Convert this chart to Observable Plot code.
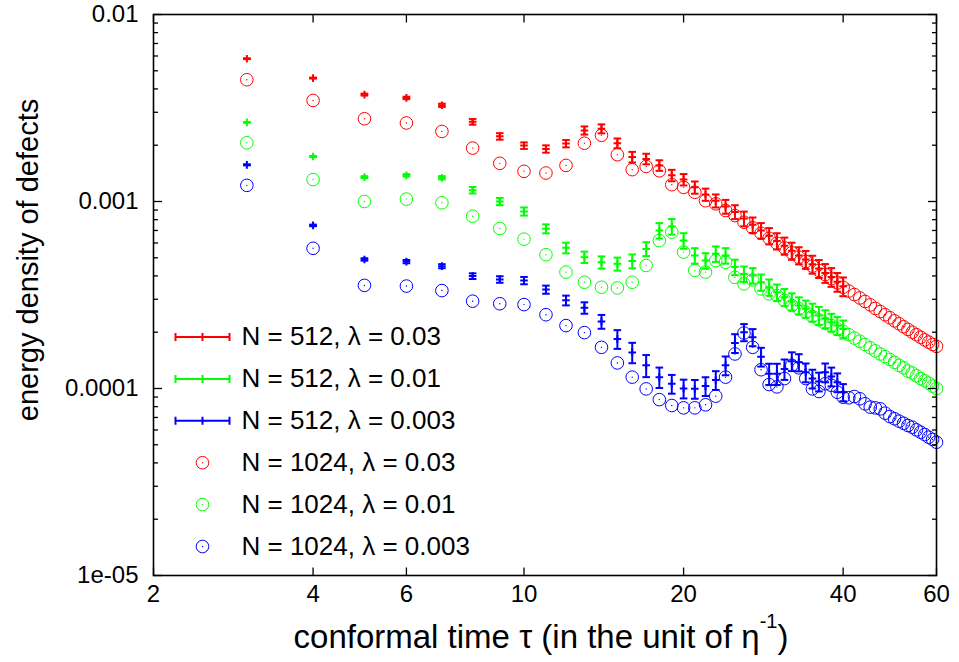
<!DOCTYPE html>
<html><head><meta charset="utf-8">
<script src="https://cdn.jsdelivr.net/npm/d3@7"></script>
<script src="https://cdn.jsdelivr.net/npm/@observablehq/plot@0.6"></script>
<style>
body{margin:0;background:#fff}
svg{font-family:"Liberation Sans",Arial,sans-serif}
</style>
</head><body><div id="chart"></div>
<script>
// ---------- data ----------
const tau512 = [3,4,5,6,7,8,9,10,11,12,13,14,15,16,17,18,19,20,21,22,23,24,25,26,27,28,29,30,31,32,33,34,35,36,37,38,39,40];
const tau1024 = [3,4,5,6,7,8,9,10,11,12,13,14,15,16,17,18,19,20,21,22,23,24,25,26,27,28,29,30,31,32,33,34,35,36,37,38,39,40,
  41,42,43,44,45,46,47,48,49,50,51,52,53,54,55,56,57,58,59,60];

const red512 = [0.00580,0.00457,0.00373,0.00358,0.00327,0.00267,0.00223,0.00199,0.00191,0.00204,0.00240,0.00245,0.00205,0.00173,0.00169,0.00156,0.00138,0.00131,0.00119,0.00109,0.00101,0.000940,0.000880,0.000810,0.000750,0.000700,0.000655,0.000615,0.000580,0.000545,0.000515,0.000490,0.000462,0.000438,0.000415,0.000395,0.000372,0.000352];
const red512err = [0.005,0.006,0.012,0.015,0.02,0.035,0.04,0.04,0.045,0.045,0.05,0.055,0.06,0.065,0.065,0.065,0.07,0.07,0.075,0.075,0.08,0.085,0.085,0.09,0.095,0.095,0.1,0.1,0.105,0.105,0.105,0.11,0.11,0.11,0.115,0.115,0.115,0.115];

const green512 = [0.00265,0.00174,0.00135,0.00138,0.00134,0.00115,0.00100,0.000885,0.000715,0.000565,0.000504,0.000473,0.000464,0.000480,0.000558,0.000700,0.000735,0.000618,0.000514,0.000483,0.000525,0.000514,0.000446,0.000410,0.000402,0.000370,0.000348,0.000327,0.000308,0.000292,0.000278,0.000267,0.000256,0.000246,0.000236,0.000226,0.000217,0.000208];
const green512err = [0.005,0.007,0.012,0.015,0.02,0.04,0.045,0.05,0.055,0.065,0.07,0.075,0.08,0.085,0.085,0.095,0.095,0.095,0.095,0.095,0.095,0.095,0.095,0.095,0.095,0.1,0.1,0.1,0.105,0.105,0.105,0.105,0.11,0.11,0.11,0.11,0.11,0.11];

const blue512 = [0.00157,0.000745,0.000490,0.000477,0.000451,0.000399,0.000383,0.000378,0.000338,0.000296,0.000270,0.000228,0.000184,0.000156,0.000133,0.000115,0.000106,0.000100,0.0000996,0.000103,0.000111,0.000133,0.000175,0.000200,0.000188,0.000148,0.000120,0.000120,0.000127,0.000140,0.000138,0.000122,0.000113,0.000109,0.000122,0.000116,0.000108,0.0000955];
const blue512err = [0.006,0.01,0.015,0.02,0.025,0.035,0.04,0.045,0.05,0.06,0.07,0.085,0.115,0.125,0.135,0.125,0.115,0.115,0.115,0.115,0.115,0.115,0.115,0.105,0.105,0.115,0.13,0.13,0.125,0.115,0.105,0.115,0.115,0.115,0.115,0.115,0.115,0.105];

const red1024 = [0.00448,0.00347,0.00277,0.00263,0.00237,0.00193,0.00160,0.00145,0.00142,0.00156,0.00205,0.00226,0.00178,0.00148,0.00154,0.00146,0.00123,0.00119,0.00112,0.00101,0.000972,0.000895,0.000841,0.000775,0.000723,0.000676,0.000636,0.000598,0.000565,0.000532,0.000504,0.000478,0.000451,0.000428,0.000407,0.000386,0.000367,0.000348,
  0.000332,0.000318,0.000305,0.000292,0.000280,0.000268,0.000258,0.000248,0.000239,0.000230,0.000222,0.000214,0.000207,0.000200,0.000194,0.000188,0.000182,0.000177,0.000172,0.000168];
const green1024 = [0.00206,0.00131,0.00100,0.00103,0.000984,0.000834,0.000717,0.000629,0.000519,0.000419,0.000370,0.000348,0.000345,0.000370,0.000455,0.000618,0.000686,0.000536,0.000428,0.000419,0.000483,0.000473,0.000393,0.000363,0.000381,0.000341,0.000321,0.000314,0.000296,0.000278,0.000267,0.000256,0.000243,0.000233,0.000223,0.000217,0.000208,0.000202,
  0.000194,0.000186,0.000179,0.000172,0.000165,0.000159,0.000153,0.000148,0.000143,0.000138,0.000133,0.000129,0.000124,0.000121,0.000117,0.000113,0.000110,0.000107,0.000103,0.000100];
const blue1024 = [0.00122,0.000562,0.000356,0.000353,0.000334,0.000293,0.000284,0.000281,0.000248,0.000217,0.000199,0.000166,0.000137,0.000115,0.0000995,0.0000872,0.0000811,0.0000788,0.0000788,0.0000818,0.0000910,0.000115,0.000153,0.000198,0.000166,0.000126,0.000105,0.000102,0.000113,0.000133,0.000129,0.000113,0.0000995,0.0000964,0.000106,0.000104,0.0000955,0.0000898,
  0.0000892,0.0000906,0.0000881,0.0000828,0.0000795,0.0000788,0.0000778,0.0000738,0.0000708,0.0000689,0.0000669,0.0000652,0.0000634,0.0000621,0.0000601,0.0000584,0.0000567,0.0000549,0.0000534,0.0000516];

const seriesColors = ["#ff0000", "#00ff00", "#0000ff"];
const legendLabels = ["N = 512, λ = 0.03", "N = 512, λ = 0.01", "N = 512, λ = 0.003",
                      "N = 1024, λ = 0.03", "N = 1024, λ = 0.01", "N = 1024, λ = 0.003"];
const xTicks = [2, 4, 6, 10, 20, 40, 60];
const yTicks = [1e-5, 1e-4, 1e-3, 1e-2];
const yTickLabels = ["1e-05", "0.0001", "0.001", "0.01"];
const xLabel = "conformal time τ (in the unit of η-1)";
const yLabel = "energy density of defects";

// ---------- build tables ----------
const bars = [[red512, red512err], [green512, green512err], [blue512, blue512err]].map(([ys, es], k) =>
  tau512.map((t, i) => ({x: t, y: ys[i], lo: ys[i] * (1 - es[i]), hi: ys[i] * (1 + es[i]), c: seriesColors[k]})));
const circ = [red1024, green1024, blue1024].map((ys, k) =>
  tau1024.map((t, i) => ({x: t, y: ys[i], c: seriesColors[k]})));
const yMinor = [];
for (const d of [1e-5, 1e-4, 1e-3]) for (let m = 2; m <= 9; m++) yMinor.push(m * d);

// ---------- symbols ----------
const hline = (w) => ({draw(ctx) { ctx.moveTo(-w, 0); ctx.lineTo(w, 0); }});
const plus = (w) => ({draw(ctx) { ctx.moveTo(-w, 0); ctx.lineTo(w, 0); ctx.moveTo(0, -w); ctx.lineTo(0, w); }});
const seg = (dx, dy) => ({draw(ctx) { ctx.moveTo(0, 0); ctx.lineTo(dx, dy); }});
const legendBar = {draw(ctx) {
  ctx.moveTo(-27, 0); ctx.lineTo(27, 0);
  ctx.moveTo(-27, -4); ctx.lineTo(-27, 4);
  ctx.moveTo(27, -4); ctx.lineTo(27, 4);
  ctx.moveTo(0, -4); ctx.lineTo(0, 4);
}};

const ML = 153, MR = 23, MT = 14, MB = 87;
const CAP = 3.8, R = 6.3;

const marks = [];
// error bars (N=512)
for (const b of bars) {
  marks.push(Plot.ruleX(b, {x: "x", y1: "lo", y2: "hi", stroke: "c", strokeWidth: 2}));
  marks.push(Plot.dot(b, {x: "x", y: "lo", symbol: hline(CAP), stroke: "c", fill: "none", strokeWidth: 2}));
  marks.push(Plot.dot(b, {x: "x", y: "hi", symbol: hline(CAP), stroke: "c", fill: "none", strokeWidth: 2}));
  marks.push(Plot.dot(b, {x: "x", y: "y", symbol: plus(CAP), stroke: "c", fill: "none", strokeWidth: 2}));
}
// circles (N=1024)
for (const c of circ) {
  marks.push(Plot.dot(c, {x: "x", y: "y", r: R, stroke: "c", fill: "none", strokeWidth: 1}));
  marks.push(Plot.dot(c, {x: "x", y: "y", r: 0.7, fill: "c", stroke: "none"}));
}
// ticks (inward, mirrored)
marks.push(Plot.dot(xTicks, {x: d => d, y: 1e-5, symbol: seg(0, -8), stroke: "black", strokeWidth: 1.3}));
marks.push(Plot.dot(xTicks, {x: d => d, y: 1e-2, symbol: seg(0, 8), stroke: "black", strokeWidth: 1.3}));
marks.push(Plot.dot(yTicks, {x: 2, y: d => d, symbol: seg(8.5, 0), stroke: "black", strokeWidth: 1.3}));
marks.push(Plot.dot(yTicks, {x: 60, y: d => d, symbol: seg(-8.5, 0), stroke: "black", strokeWidth: 1.3}));
marks.push(Plot.dot(yMinor, {x: 2, y: d => d, symbol: seg(4.5, 0), stroke: "black", strokeWidth: 1.3}));
marks.push(Plot.dot(yMinor, {x: 60, y: d => d, symbol: seg(-4.5, 0), stroke: "black", strokeWidth: 1.3}));
marks.push(Plot.frame({stroke: "black", strokeWidth: 1.6}));
// tick labels
marks.push(Plot.axisX(xTicks, {tickSize: 0, tickPadding: 9, fontSize: 24, tickFormat: d => String(d), label: null}));
marks.push(Plot.axisY(yTicks, {tickSize: 0, tickPadding: 15, fontSize: 24, tickFormat: d => yTickLabels[yTicks.indexOf(d)], label: null}));
// axis titles
marks.push(Plot.text([yLabel], {frameAnchor: "left", dx: -125, dy: -35, rotate: -90, textAnchor: "middle", lineAnchor: "middle", fontSize: 29, text: d => d}));
marks.push(Plot.text([xLabel], {frameAnchor: "bottom", dx: -4, dy: 62, textAnchor: "middle", lineAnchor: "middle", fontSize: 33, text: d => d}));
// legend
const rowY = [336.5, 378.4, 420.3, 462.2, 504.1, 546.0];
legendLabels.forEach((lab, i) => {
  const dy = rowY[i] - MT;
  const col = seriesColors[i % 3];
  if (i < 3) {
    marks.push(Plot.dot([0], {frameAnchor: "top-left", dx: 49, dy, symbol: legendBar, stroke: col, fill: "none", strokeWidth: 2}));
  } else {
    marks.push(Plot.dot([0], {frameAnchor: "top-left", dx: 49, dy, r: R, stroke: col, fill: "none", strokeWidth: 1}));
    marks.push(Plot.dot([0], {frameAnchor: "top-left", dx: 49, dy, r: 0.7, fill: col, stroke: "none"}));
  }
  marks.push(Plot.text([lab], {frameAnchor: "top-left", dx: 88, dy, text: d => d, textAnchor: "start", lineAnchor: "middle", fontSize: 26}));
});

const chart = Plot.plot({
  width: 959, height: 662,
  marginLeft: ML, marginRight: MR, marginTop: MT, marginBottom: MB,
  x: {type: "log", domain: [2, 60]},
  y: {type: "log", domain: [1e-5, 1e-2]},
  style: {fontFamily: '"Liberation Sans", Arial, sans-serif', color: "black", background: "white", overflow: "visible"},
  marks
});
document.getElementById("chart").appendChild(chart);

// superscript in x label
for (const t of chart.querySelectorAll("text")) {
  if (t.textContent === xLabel) {
    t.textContent = "";
    const ns = "http://www.w3.org/2000/svg";
    const a = document.createElementNS(ns, "tspan"); a.textContent = "conformal time τ (in the unit of η";
    const b = document.createElementNS(ns, "tspan"); b.textContent = "-1"; b.setAttribute("dy", "-20"); b.setAttribute("font-size", "20");
    const c = document.createElementNS(ns, "tspan"); c.textContent = ")"; c.setAttribute("dy", "20");
    t.append(a, b, c);
  }
}
</script>
</body></html>
